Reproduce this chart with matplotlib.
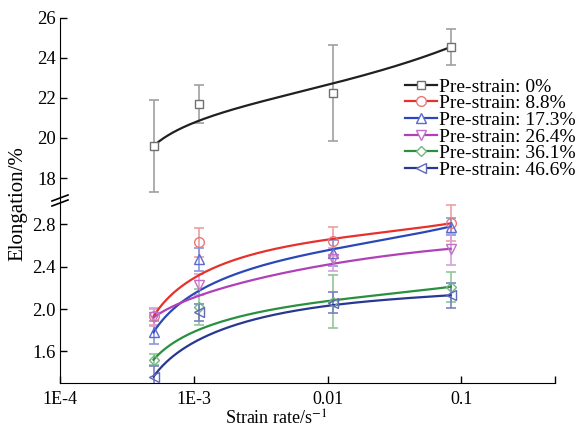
import numpy as np
import matplotlib.pyplot as plt
from matplotlib.lines import Line2D
from math import comb

plt.rcParams['font.family'] = ['Liberation Serif', 'DejaVu Serif']
plt.rcParams['mathtext.fontset'] = 'stix'

# Dados
taxas = [5e-4, 1.1e-3, 0.011, 0.083]

rotulos = ['Pre-strain: 0%', 'Pre-strain: 8.8%', 'Pre-strain: 17.3%',
           'Pre-strain: 26.4%', 'Pre-strain: 36.1%', 'Pre-strain: 46.6%']

along_0 = [19.6, 21.7, 22.25, 24.55]
erro_0 = [2.3, 0.95, 2.4, 0.9]

along_88 = [1.93, 2.63, 2.64, 2.81]
erro_88 = [0.08, 0.14, 0.14, 0.17]
along_173 = [1.78, 2.47, 2.53, 2.78]
erro_173 = [0.11, 0.11, 0.12, 0.08]
along_264 = [1.92, 2.23, 2.47, 2.57]
erro_264 = [0.08, 0.10, 0.11, 0.15]
along_361 = [1.52, 2.02, 2.07, 2.21]
erro_361 = [0.05, 0.17, 0.25, 0.14]
along_466 = [1.36, 1.97, 2.06, 2.13]
erro_466 = [0.10, 0.08, 0.10, 0.12]

xticks = [1e-4, 1e-3, 1e-2, 1e-1]
xlabels = ['1E-4', '1E-3', '0.01', '0.1']


# linha B-spline (pontos como pontos de controle, em log x)
def bspline(x, y):
    lx = np.log10(np.array(x))
    y = np.array(y)
    n = len(lx) - 1
    t = np.linspace(0, 1, 200)
    bx = np.zeros_like(t)
    by = np.zeros_like(t)
    for i in range(n+1):
        b = comb(n, i) * t**i * (1-t)**(n-i)
        bx += b*lx[i]
        by += b*y[i]
    return 10**bx, by


fig = plt.figure(figsize=(5.82, 4.30), dpi=100)
L, R = 60/582, 555/582
ax1 = fig.add_axes([L, 1-198/430, R-L, 180/430])
ax2 = fig.add_axes([L, 1-383/430, R-L, 185/430])

# curva, marcador, barra de erro
estilos_baixo = [
    (along_88, erro_88, '#e8302c', 'o', '#e87878', '#eea0a0'),
    (along_173, erro_173, '#2a48b8', '^', '#5a6ad0', '#8a96dc'),
    (along_264, erro_264, '#b040b8', 'v', '#c070c8', '#d8a0dc'),
    (along_361, erro_361, '#2a9040', 'D', '#70b880', '#90c898'),
    (along_466, erro_466, '#283890', '<', '#6068b8', '#7a80c4'),
]

handles = []
xs, ys = bspline(taxas, along_0)
ax1.errorbar(taxas, along_0, yerr=erro_0, fmt='none', ecolor='#a0a0a0',
             elinewidth=1.2, capsize=3.5, capthick=1.2, zorder=2)
ax1.plot(xs, ys, color='#202020', lw=1.6, zorder=3)
ax1.plot(taxas, along_0, 's', ms=6, mfc='white', mec='#707070', mew=1.0, zorder=4)
handles.append(Line2D([], [], color='#202020', lw=1.6, marker='s', ms=6,
                      mfc='white', mec='#707070'))

for y, e, cor, mk, cor_mk, cor_err in estilos_baixo:
    xs, ys = bspline(taxas, y)
    ms = 5.5 if mk == 'D' else 7
    ax2.errorbar(taxas, y, yerr=e, fmt='none', ecolor=cor_err,
                 elinewidth=1.2, capsize=3.5, capthick=1.2, zorder=2)
    ax2.plot(xs, ys, color=cor, lw=1.6, zorder=3)
    ax2.plot(taxas, y, mk, ms=ms, mfc='none', mec=cor_mk, mew=1.0, zorder=4)
    handles.append(Line2D([], [], color=cor, lw=1.6, marker=mk, ms=ms,
                          mfc='white', mec=cor_mk))

for ax in (ax1, ax2):
    ax.set_xscale('log')
    ax.set_xlim(1e-4, 0.5)
    ax.spines['top'].set_visible(False)
    ax.spines['right'].set_visible(False)
    ax.tick_params(direction='in', length=5, width=1, labelsize=13.5, pad=3)
    ax.minorticks_off()

ax1.set_ylim(17, 26)
ax1.set_yticks([18, 20, 22, 24, 26])
ax1.spines['bottom'].set_visible(False)
ax1.tick_params(axis='x', which='both', bottom=False, labelbottom=False)

ax2.set_ylim(1.3, 3.05)
ax2.set_yticks([1.6, 2.0, 2.4, 2.8])
ax2.set_yticklabels(['1.6', '2.0', '2.4', '2.8'])
ax2.set_xticks(xticks + [0.5])
ax2.set_xticklabels(xlabels + [''])
ax2.minorticks_off()
ax2.tick_params(axis='x', labelsize=13, pad=6)

# marca de quebra do eixo
for dy in (0, 5):
    fig.add_artist(Line2D([52/582, 68/582], [1-(201+dy)/430, 1-(195+dy)/430],
                          color='black', lw=1.2))

fig.text(18/582, 1-204/430, 'Elongation/%', rotation=90, ha='center',
         va='center', fontsize=15)
fig.text(276/582, 1-419/430, 'Strain rate/s$^{-1}$', ha='center', va='center',
         fontsize=13)

fig.legend(handles, rotulos, loc='upper left', bbox_to_anchor=(405/582, 1-78/430),
           frameon=False, fontsize=14, handlelength=1.65, handletextpad=0.08,
           labelspacing=-0.05, borderpad=0, borderaxespad=0)

fig.savefig('out.png', dpi=100)
